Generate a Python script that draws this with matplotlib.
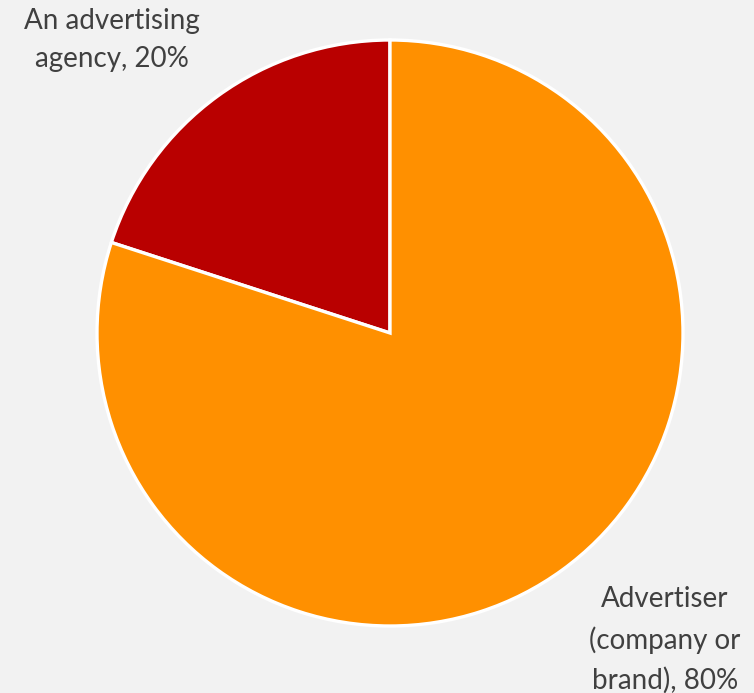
import matplotlib
matplotlib.use("Agg")
from matplotlib import pyplot as plt

# 数据
labels = ["An advertising\nagency", "Advertiser\n(company or\nbrand)"]
shares = [20, 80]
colors = ["#b90000", "#ff9000"]

plt.rcParams["font.family"] = ["Lato", "DejaVu Sans"]

fig = plt.figure(figsize=(7.54, 6.93), dpi=100)
fig.patch.set_facecolor("#f2f2f2")
ax = fig.add_axes([0, 0, 1, 1])
ax.set_facecolor("#f2f2f2")

ax.pie(shares, colors=colors, startangle=90, counterclock=True,
       center=(390, 360), radius=293,
       wedgeprops=dict(edgecolor="white", linewidth=2.4))
ax.set_xlim(0, 754)
ax.set_ylim(0, 693)
ax.set_aspect("equal")
ax.axis("off")

# 标签位置
label_pos = [(112, 653), (665, 53)]
for lab, val, (x, y) in zip(labels, shares, label_pos):
    ax.text(x, y, "{}, {}%".format(lab, val), ha="center", va="center",
            fontsize=20, color="#404040", linespacing=1.6)

plt.savefig("out.png", dpi=100, facecolor=fig.get_facecolor())
